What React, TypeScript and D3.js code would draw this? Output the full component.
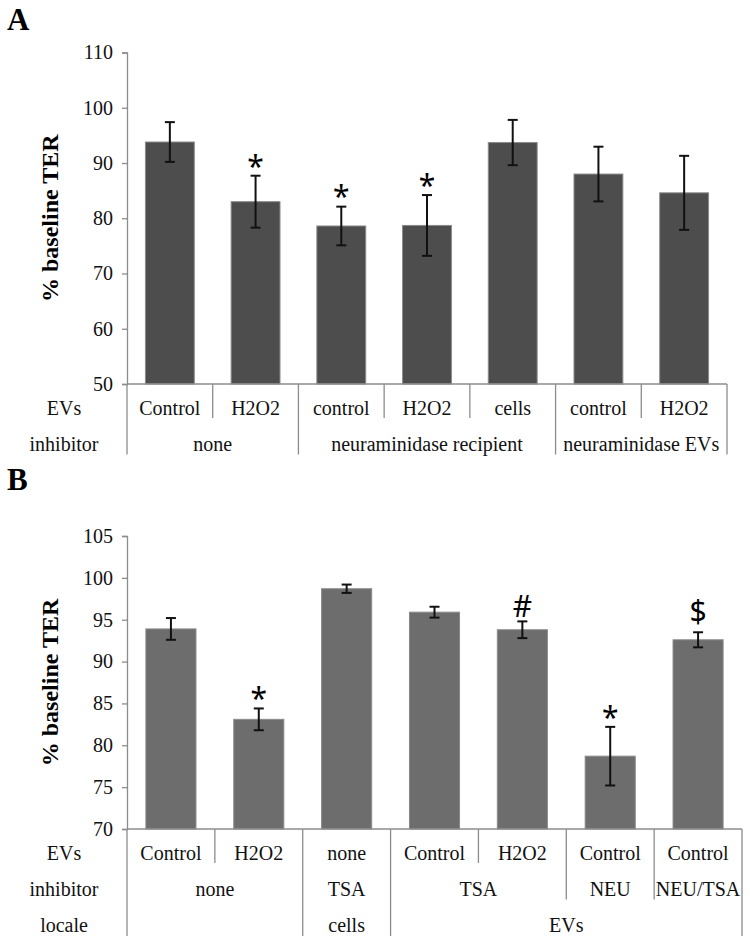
import React, { useRef, useEffect } from 'react';
import * as d3 from 'd3';

// ---------- Panel A data ----------
const aEVs = ['Control', 'H2O2', 'control', 'H2O2', 'cells', 'control', 'H2O2'];
const aValues = [93.8, 83.0, 78.6, 78.7, 93.7, 88.0, 84.6];
const aErrors = [3.6, 4.7, 3.5, 5.5, 4.1, 4.95, 6.7];
const aMarks = ['', '*', '*', '*', '', '', ''];
const aInhibitor = [
  { label: 'none', span: 2 },
  { label: 'neuraminidase recipient', span: 3 },
  { label: 'neuraminidase EVs', span: 2 },
];
const aTicks = [50, 60, 70, 80, 90, 100, 110];

// ---------- Panel B data ----------
const bEVs = ['Control', 'H2O2', 'none', 'Control', 'H2O2', 'Control', 'Control'];
const bValues = [93.9, 83.1, 98.7, 95.9, 93.8, 78.7, 92.6];
const bErrors = [1.3, 1.3, 0.5, 0.65, 1.0, 3.5, 0.9];
const bMarks = ['', '*', '', '', '#', '*', '$'];
const bInhibitor = [
  { label: 'none', span: 2 },
  { label: 'TSA', span: 1 },
  { label: 'TSA', span: 2 },
  { label: 'NEU', span: 1 },
  { label: 'NEU/TSA', span: 1 },
];
const bLocale = [
  { label: '', span: 2 },
  { label: 'cells', span: 1 },
  { label: 'EVs', span: 4 },
];
const bTicks = [70, 75, 80, 85, 90, 95, 100, 105];

type Group = { label: string; span: number };
type Row = { name: string; groups: Group[] };

const SERIF = '"Liberation Serif", "Times New Roman", serif';
const SANS = '"Noto Sans", "Open Sans", sans-serif';
const GRID = '#8c8c8c';

// glyph-centre offsets (fraction of font size above baseline)
const markLift: Record<string, number> = { '*': 0.56, '#': 0.36, '$': 0.36 };
const markGap: Record<string, number> = { '*': 16, '#': 15, '$': 21 };

interface PanelProps {
  letter: string;
  letterY: number;
  top: number;
  bottom: number;
  left: number;
  right: number;
  domain: [number, number];
  ticks: number[];
  values: number[];
  errors: number[];
  marks: string[];
  rows: Row[];
  fill: string;
}

function Panel(p: PanelProps) {
  const axisRef = useRef<SVGGElement>(null);
  const y = d3.scaleLinear().domain(p.domain).range([p.bottom, p.top]);
  const n = p.values.length;
  const x = d3
    .scaleBand<number>()
    .domain(d3.range(n))
    .range([p.left, p.right])
    .paddingInner(0.43)
    .paddingOuter(0.215);
  const step = (p.right - p.left) / n;
  const bx = (i: number) => p.left + i * step;

  useEffect(() => {
    if (!axisRef.current) return;
    const g = d3.select(axisRef.current);
    g.selectAll('*').remove();
    g.call(
      d3
        .axisLeft(y)
        .tickValues(p.ticks)
        .tickSize(5)
        .tickPadding(9)
        .tickFormat(d3.format('d'))
    );
    g.select('.domain').attr('stroke', GRID).attr('stroke-width', 1.3);
    g.selectAll('.tick line').attr('stroke', GRID).attr('stroke-width', 1.3);
    g.selectAll('.tick text')
      .attr('fill', '#111')
      .style('font-family', SERIF)
      .style('font-size', '20px');
  });

  const rowCenter = (r: number) => p.bottom + 24 + r * 36;
  const rowEnd = (r: number) => p.bottom + 34 + r * 36.5;

  // boundaries per row
  const boundarySets = p.rows.map((row) => {
    const s = new Set<number>([0]);
    let c = 0;
    row.groups.forEach((g) => {
      c += g.span;
      s.add(c);
    });
    return s;
  });
  const lines = d3.range(n + 1).map((b) => {
    let deepest = 0;
    boundarySets.forEach((s, r) => {
      if (s.has(b)) deepest = r;
    });
    return { b, end: rowEnd(deepest) };
  });

  return (
    <g>
      <text
        x={7}
        y={p.letterY}
        fontFamily={SERIF}
        fontWeight="bold"
        fontSize={31}
        fill="#000"
      >
        {p.letter}
      </text>
      <text
        transform={`translate(50,${(p.top + p.bottom) / 2}) rotate(-90)`}
        textAnchor="middle"
        dominantBaseline="central"
        fontFamily={SERIF}
        fontWeight="bold"
        fontSize={24}
        fill="#000"
      >
        % baseline TER
      </text>
      {p.values.map((v, i) => (
        <rect
          key={'bar' + i}
          x={x(i)}
          y={y(v)}
          width={x.bandwidth()}
          height={p.bottom - y(v)}
          fill={p.fill}
          stroke="#8a8a8a"
          strokeWidth={1}
        />
      ))}
      {p.values.map((v, i) => {
        const cx = (x(i) as number) + x.bandwidth() / 2;
        const t = y(v + p.errors[i]);
        const b = y(v - p.errors[i]);
        return (
          <g key={'err' + i} stroke="#111" strokeWidth={2}>
            <line x1={cx} x2={cx} y1={t} y2={b} />
            <line x1={cx - 5} x2={cx + 5} y1={t} y2={t} />
            <line x1={cx - 5} x2={cx + 5} y1={b} y2={b} />
          </g>
        );
      })}
      {p.marks.map((m, i) => {
        if (!m) return null;
        const cx = (x(i) as number) + x.bandwidth() / 2;
        const t = y(p.values[i] + p.errors[i]);
        const fs = 30;
        const centre = t - markGap[m];
        return (
          <text
            key={'mk' + i}
            x={cx}
            y={centre + markLift[m] * fs}
            textAnchor="middle"
            fontFamily={SANS}
            fontSize={fs}
            fill="#000"
          >
            {m}
          </text>
        );
      })}
      <g ref={axisRef} transform={`translate(${p.left},0)`} />
      <line x1={p.left} x2={p.right} y1={p.bottom} y2={p.bottom} stroke={GRID} strokeWidth={1.3} />
      {lines.map((l) => (
        <line
          key={'ln' + l.b}
          x1={bx(l.b)}
          x2={bx(l.b)}
          y1={p.bottom}
          y2={l.end}
          stroke={GRID}
          strokeWidth={1.3}
        />
      ))}
      {p.rows.map((row, r) => {
        let c = 0;
        return (
          <g key={'row' + r} fontFamily={SERIF} fontSize={20} fill="#111">
            <text x={64} y={rowCenter(r)} textAnchor="middle" dominantBaseline="central">
              {row.name}
            </text>
            {row.groups.map((g, gi) => {
              const cx = bx(c) + (g.span * step) / 2;
              c += g.span;
              return (
                <text
                  key={gi}
                  x={cx}
                  y={rowCenter(r)}
                  textAnchor="middle"
                  dominantBaseline="central"
                >
                  {g.label}
                </text>
              );
            })}
          </g>
        );
      })}
    </g>
  );
}

export default function App() {
  const single = (arr: string[]) => arr.map((l) => ({ label: l, span: 1 }));
  return (
    <svg
      width={750}
      height={944}
      style={{ position: 'absolute', left: 0, top: 0, background: '#fff' }}
    >
      <rect width={750} height={944} fill="#fff" />
      <Panel
        letter="A"
        letterY={30}
        top={52.5}
        bottom={384}
        left={127}
        right={727}
        domain={[50, 110]}
        ticks={aTicks}
        values={aValues}
        errors={aErrors}
        marks={aMarks}
        rows={[
          { name: 'EVs', groups: single(aEVs) },
          { name: 'inhibitor', groups: aInhibitor },
        ]}
        fill="#4d4d4d"
      />
      <Panel
        letter="B"
        letterY={490}
        top={536}
        bottom={829}
        left={127}
        right={742}
        domain={[70, 105]}
        ticks={bTicks}
        values={bValues}
        errors={bErrors}
        marks={bMarks}
        rows={[
          { name: 'EVs', groups: single(bEVs) },
          { name: 'inhibitor', groups: bInhibitor },
          { name: 'locale', groups: bLocale },
        ]}
        fill="#6d6d6d"
      />
    </svg>
  );
}
